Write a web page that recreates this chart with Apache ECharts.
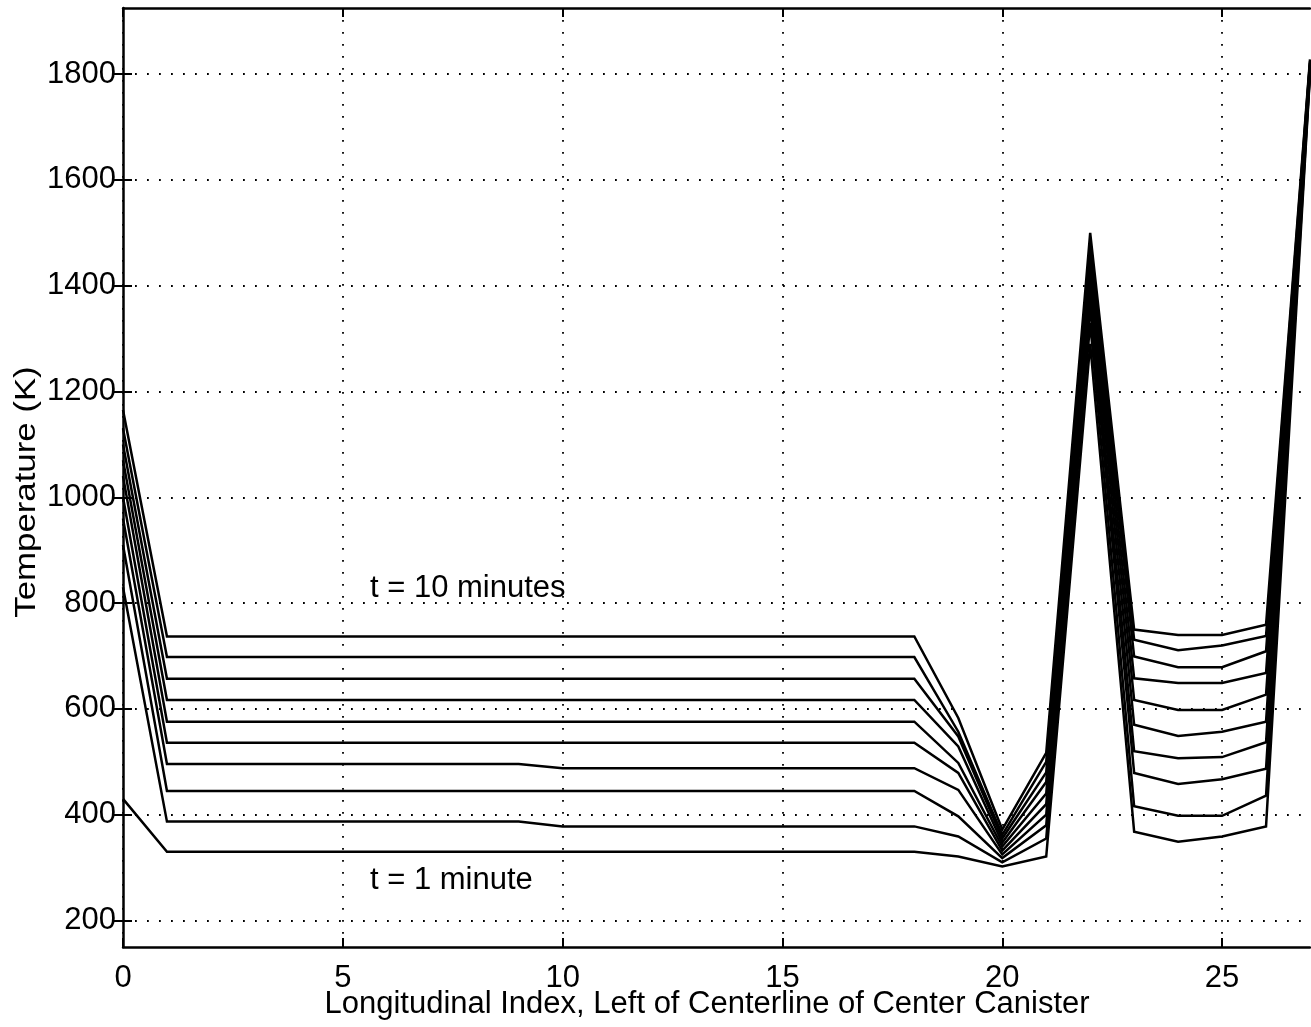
<!DOCTYPE html>
<html>
<head>
<meta charset="utf-8">
<script src="https://cdn.jsdelivr.net/npm/echarts@6/dist/echarts.min.js"></script>
<style>
html,body{margin:0;padding:0;background:#fff;}
#chart{width:1311px;height:1027px;}
</style>
</head>
<body>
<div id="chart"></div>
<script>
// Longitudinal index (x)
var xIndex = [0,1,2,3,4,5,6,7,8,9,10,11,12,13,14,15,16,17,18,19,20,21,22,23,24,25,26,27];

// Temperature (K) for t = 1 ... 10 minutes
var t1  = [430,330,330,330,330,330,330,330,330,330,330,330,330,330,330,330,330,330,330,321,302,321,1290,368,349,359,378,1800];
var t2  = [830,387,387,387,387,387,387,387,387,387,378,378,378,378,378,378,378,378,378,359,310,355,1330,416,398,398,436,1803];
var t3  = [910,445,445,445,445,445,445,445,445,445,445,445,445,445,445,445,445,445,445,397,318,380,1360,479,458,467,487,1806];
var t4  = [960,496,496,496,496,496,496,496,496,496,488,488,488,488,488,488,488,488,488,447,325,400,1385,520,507,509,537,1809];
var t5  = [1000,536,536,536,536,536,536,536,536,536,536,536,536,536,536,536,536,536,536,479,332,420,1410,570,549,557,576,1812];
var t6  = [1040,576,576,576,576,576,576,576,576,576,576,576,576,576,576,576,576,576,576,498,340,440,1430,617,598,598,627,1815];
var t7  = [1070,617,617,617,617,617,617,617,617,617,617,617,617,617,617,617,617,617,617,529,347,462,1450,658,649,649,668,1818];
var t8  = [1100,657,657,657,657,657,657,657,657,657,657,657,657,657,657,657,657,657,657,548,355,480,1465,699,679,679,709,1821];
var t9  = [1130,698,698,698,698,698,698,698,698,698,698,698,698,698,698,698,698,698,698,557,362,500,1480,731,711,720,738,1824];
var t10 = [1165,737,737,737,737,737,737,737,737,737,737,737,737,737,737,737,737,737,737,583,372,517,1500,750,740,740,759,1828];

var seriesList = [t1,t2,t3,t4,t5,t6,t7,t8,t9,t10];
var seriesNames = ['t = 1 minute','t = 2 minutes','t = 3 minutes','t = 4 minutes','t = 5 minutes',
                   't = 6 minutes','t = 7 minutes','t = 8 minutes','t = 9 minutes','t = 10 minutes'];

// Axis ticks
var xTicks = [0,5,10,15,20,25];
var yTicks = [200,400,600,800,1000,1200,1400,1600,1800];
var xRange = [0,27];
var yRange = [150,1925];

var xTitle = 'Longitudinal Index, Left of Centerline of Center Canister';
var yTitle = 'Temperature (K)';
var annoTop = 't = 10 minutes';
var annoBottom = 't = 1 minute';

var FONT = '"Liberation Sans", Arial, Helvetica, sans-serif';
var FS = 31;

var chart = echarts.init(document.getElementById('chart'), null, {renderer:'canvas'});

var dotted = {color:'#000', width:1.8, type:[1.8,10.2], cap:'butt'};
var frame = {show:true, lineStyle:{color:'#000', width:2.5}};
var plain = function(v){ return String(v); };

var series = seriesList.map(function(arr, i){
  return {
    name: seriesNames[i],
    type: 'line',
    xAxisIndex: 0, yAxisIndex: 0,
    data: arr.map(function(v, k){ return [xIndex[k], v]; }),
    symbol: 'none',
    smooth: false,
    lineStyle: {color:'#000', width:2.5, join:'miter'},
    itemStyle: {color:'#000'},
    silent: true,
    clip: true
  };
});

var option = {
  backgroundColor: '#fff',
  animation: false,
  grid: {left:123, top:8, width:1187, height:939, show:false},
  xAxis: [{
    type:'value', min:xRange[0], max:xRange[1], position:'bottom',
    axisLine:frame,
    axisTick:{show:true, inside:true, length:9, customValues:xTicks, lineStyle:{color:'#000', width:2}},
    axisLabel:{show:true, customValues:xTicks, margin:16, color:'#000', fontSize:FS, fontFamily:FONT, formatter:plain},
    splitLine:{show:true, lineStyle:dotted}
  },{
    type:'value', min:xRange[0], max:xRange[1], position:'top',
    axisLine:frame,
    axisTick:{show:true, inside:true, length:9, customValues:xTicks, lineStyle:{color:'#000', width:2}},
    axisLabel:{show:false},
    splitLine:{show:false}
  }],
  yAxis: [{
    type:'value', min:yRange[0], max:yRange[1], position:'left',
    axisLine:frame,
    axisTick:{show:true, inside:true, length:9, customValues:yTicks, lineStyle:{color:'#000', width:2}},
    axisLabel:{show:true, customValues:yTicks, margin:7, color:'#000', fontSize:FS, fontFamily:FONT, formatter:plain},
    splitLine:{show:true, lineStyle:dotted}
  },{
    type:'value', min:yRange[0], max:yRange[1], position:'right',
    axisLine:{show:false},
    axisTick:{show:true, inside:true, length:9, customValues:yTicks, lineStyle:{color:'#000', width:2}},
    axisLabel:{show:false},
    splitLine:{show:false}
  }],
  graphic: [
    {type:'text', x:707, y:1004, style:{text:xTitle, font:FS+'px '+FONT, fill:'#000', textAlign:'center', textVerticalAlign:'middle'}},
    {type:'text', x:27, y:492, rotation:Math.PI/2, scaleX:1.16, style:{text:yTitle, font:'30px '+FONT, fill:'#000', textAlign:'center', textVerticalAlign:'middle'}},
    {type:'text', x:370, y:588, style:{text:annoTop, font:FS+'px '+FONT, fill:'#000', textAlign:'left', textVerticalAlign:'middle'}},
    {type:'text', x:370, y:880, style:{text:annoBottom, font:FS+'px '+FONT, fill:'#000', textAlign:'left', textVerticalAlign:'middle'}}
  ],
  series: series
};

chart.setOption(option);
</script>
</body>
</html>
